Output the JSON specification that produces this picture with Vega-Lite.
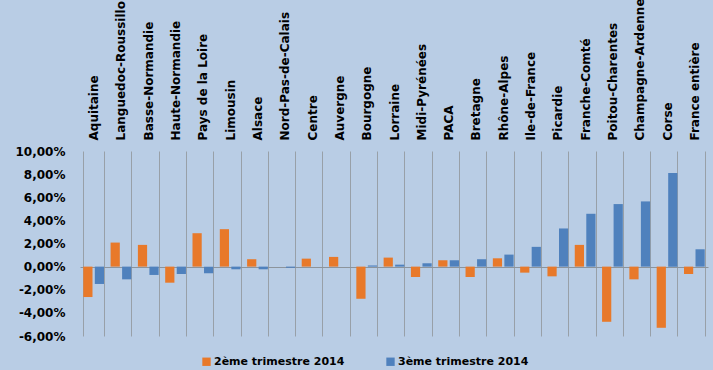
{
  "$schema": "https://vega.github.io/schema/vega-lite/v6.json",
  "width": 628,
  "height": 185,
  "autosize": {"type": "none"},
  "padding": {"left": 80, "top": 151, "right": 5, "bottom": 34},
  "background": "#B9CDE5",
  "config": {
    "view": {"stroke": null},
    "locale": {"number": {"decimal": ",", "thousands": " ", "grouping": [3], "currency": ["", " €"], "minus": "-"}},
    "font": "DejaVu Sans",
    "axisY": {"labelOverlap": false, "labelFlush": false}
  },
  "data": {
    "values": [
      {"region": "Aquitaine", "serie": "2ème trimestre 2014", "v": -0.0263},
      {"region": "Aquitaine", "serie": "3ème trimestre 2014", "v": -0.015},
      {"region": "Languedoc-Roussillon", "serie": "2ème trimestre 2014", "v": 0.0208},
      {"region": "Languedoc-Roussillon", "serie": "3ème trimestre 2014", "v": -0.011},
      {"region": "Basse-Normandie", "serie": "2ème trimestre 2014", "v": 0.0188},
      {"region": "Basse-Normandie", "serie": "3ème trimestre 2014", "v": -0.0072},
      {"region": "Haute-Normandie", "serie": "2ème trimestre 2014", "v": -0.0139},
      {"region": "Haute-Normandie", "serie": "3ème trimestre 2014", "v": -0.0064},
      {"region": "Pays de la Loire", "serie": "2ème trimestre 2014", "v": 0.0289},
      {"region": "Pays de la Loire", "serie": "3ème trimestre 2014", "v": -0.0058},
      {"region": "Limousin", "serie": "2ème trimestre 2014", "v": 0.0324},
      {"region": "Limousin", "serie": "3ème trimestre 2014", "v": -0.0023},
      {"region": "Alsace", "serie": "2ème trimestre 2014", "v": 0.0064},
      {"region": "Alsace", "serie": "3ème trimestre 2014", "v": -0.0023},
      {"region": "Nord-Pas-de-Calais", "serie": "2ème trimestre 2014", "v": 0.0},
      {"region": "Nord-Pas-de-Calais", "serie": "3ème trimestre 2014", "v": -0.001},
      {"region": "Centre", "serie": "2ème trimestre 2014", "v": 0.0069},
      {"region": "Centre", "serie": "3ème trimestre 2014", "v": 0.0},
      {"region": "Auvergne", "serie": "2ème trimestre 2014", "v": 0.0084},
      {"region": "Auvergne", "serie": "3ème trimestre 2014", "v": 0.0},
      {"region": "Bourgogne", "serie": "2ème trimestre 2014", "v": -0.0278},
      {"region": "Bourgogne", "serie": "3ème trimestre 2014", "v": 0.001},
      {"region": "Lorraine", "serie": "2ème trimestre 2014", "v": 0.0078},
      {"region": "Lorraine", "serie": "3ème trimestre 2014", "v": 0.0017},
      {"region": "Midi-Pyrénées", "serie": "2ème trimestre 2014", "v": -0.009},
      {"region": "Midi-Pyrénées", "serie": "3ème trimestre 2014", "v": 0.0029},
      {"region": "PACA", "serie": "2ème trimestre 2014", "v": 0.0055},
      {"region": "PACA", "serie": "3ème trimestre 2014", "v": 0.0055},
      {"region": "Bretagne", "serie": "2ème trimestre 2014", "v": -0.009},
      {"region": "Bretagne", "serie": "3ème trimestre 2014", "v": 0.0064},
      {"region": "Rhône-Alpes", "serie": "2ème trimestre 2014", "v": 0.0072},
      {"region": "Rhône-Alpes", "serie": "3ème trimestre 2014", "v": 0.0104},
      {"region": "Ile-de-France", "serie": "2ème trimestre 2014", "v": -0.0052},
      {"region": "Ile-de-France", "serie": "3ème trimestre 2014", "v": 0.0171},
      {"region": "Picardie", "serie": "2ème trimestre 2014", "v": -0.0084},
      {"region": "Picardie", "serie": "3ème trimestre 2014", "v": 0.033},
      {"region": "Franche-Comté", "serie": "2ème trimestre 2014", "v": 0.0188},
      {"region": "Franche-Comté", "serie": "3ème trimestre 2014", "v": 0.0457},
      {"region": "Poitou-Charentes", "serie": "2ème trimestre 2014", "v": -0.0477},
      {"region": "Poitou-Charentes", "serie": "3ème trimestre 2014", "v": 0.0541},
      {"region": "Champagne-Ardenne", "serie": "2ème trimestre 2014", "v": -0.011},
      {"region": "Champagne-Ardenne", "serie": "3ème trimestre 2014", "v": 0.0564},
      {"region": "Corse", "serie": "2ème trimestre 2014", "v": -0.0529},
      {"region": "Corse", "serie": "3ème trimestre 2014", "v": 0.0809},
      {"region": "France entière", "serie": "2ème trimestre 2014", "v": -0.0064},
      {"region": "France entière", "serie": "3ème trimestre 2014", "v": 0.015}
    ]
  },
  "mark": {"type": "bar"},
  "encoding": {
    "x": {
      "field": "region", "type": "nominal", "sort": null,
      "scale": {"paddingInner": 0.24, "paddingOuter": 0.12},
      "axis": {
        "orient": "top", "title": null, "labelAngle": -90, "ticks": false, "domain": false,
        "grid": true, "tickBand": "extent", "gridColor": "#98A0A8", "gridWidth": 1, "gridOpacity": 1,
        "labelFont": "DejaVu Sans", "labelFontSize": 12, "labelFontWeight": "bold", "labelColor": "#000000",
        "labelPadding": 11, "labelLimit": 300, "labelOverlap": false
      }
    },
    "xOffset": {"field": "serie", "type": "nominal", "scale": {"paddingInner": 0.2, "paddingOuter": 0}},
    "y": {
      "field": "v", "type": "quantitative",
      "scale": {"domain": [-0.06, 0.1], "nice": false, "zero": false},
      "axis": {
        "title": null, "format": ".2%", "tickCount": 8,
        "grid": true,
        "gridColor": {"condition": {"test": "abs(datum.value) < 1e-9", "value": "#8C949C"}, "value": "transparent"},
        "gridWidth": 1, "gridOpacity": 1,
        "ticks": false, "domain": false, "labelOverlap": false, "labelFlush": false,
        "labelFont": "DejaVu Sans", "labelFontSize": 12, "labelFontWeight": "bold", "labelColor": "#000000",
        "labelPadding": 15
      }
    },
    "color": {
      "field": "serie", "type": "nominal",
      "scale": {"domain": ["2ème trimestre 2014", "3ème trimestre 2014"], "range": ["#E8792A", "#4F81BD"]},
      "legend": {
        "title": null, "orient": "none", "direction": "horizontal", "legendX": 121, "legendY": 205,
        "symbolType": "square", "symbolSize": 70, "symbolStrokeWidth": 0, "symbolOffset": 0,
        "labelFont": "DejaVu Sans", "labelFontSize": 11, "labelFontWeight": "bold", "labelColor": "#000000",
        "labelOffset": 2, "columnPadding": 40
      }
    }
  }
}
